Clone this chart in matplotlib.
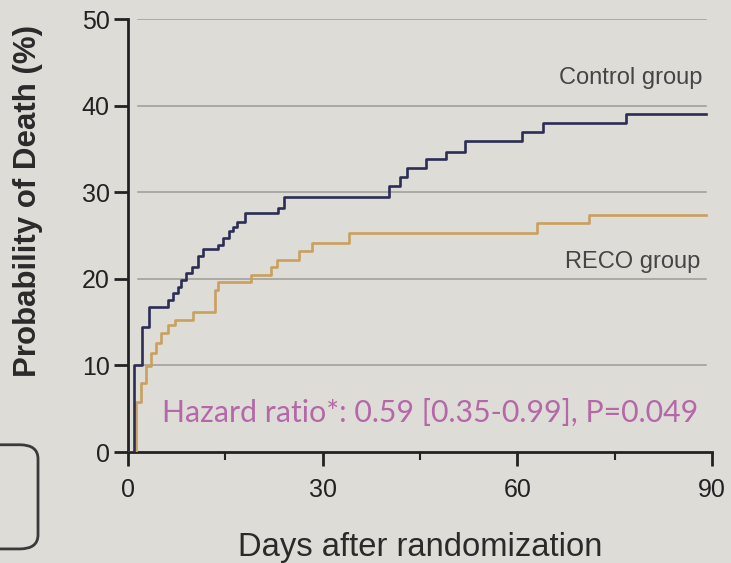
import matplotlib
matplotlib.use('Agg')
import matplotlib.pyplot as plt
from matplotlib.patches import FancyBboxPatch

# Kaplan-Meier style cumulative death
control_days = [0, 1.0, 2.1, 3.2, 6.2, 7.0, 7.7, 8.2, 9.0, 9.8, 10.8, 11.6, 13.9, 14.7,
                15.5, 16.2, 16.8, 18.0, 23.2, 24.0, 40.2, 42.0, 43.0, 46.0, 49.0, 52.0,
                60.8, 63.9, 76.8, 89.0]
control_prob = [0, 10, 14.5, 16.8, 17.6, 18.4, 19.1, 19.9, 20.7, 21.4, 22.6, 23.4, 23.9, 24.7,
                25.5, 26.0, 26.6, 27.6, 28.2, 29.5, 30.7, 31.8, 32.8, 33.8, 34.7, 35.9,
                37.0, 38.0, 39.0, 39.0]

reco_days = [0, 1.2, 2.0, 2.8, 3.6, 4.4, 5.1, 6.2, 7.2, 10.0, 13.4, 13.9, 19.0, 22.1,
             23.0, 26.3, 28.3, 34.0, 63.0, 71.0, 89.0]
reco_prob = [0, 5.8, 8.0, 9.9, 11.4, 12.6, 13.7, 14.7, 15.3, 16.2, 18.7, 19.7, 20.5, 21.4,
             22.2, 23.2, 24.1, 25.3, 26.5, 27.4, 27.4]

x_ticks = [0, 30, 60, 90]
x_minor = [15, 45, 75]
y_ticks = [0, 10, 20, 30, 40, 50]

bg = '#dedcd7'
navy = '#2b2d55'
gold = '#c9a05e'
grey_txt = '#454545'

plt.rcParams['font.family'] = ['Liberation Sans', 'DejaVu Sans']

fig = plt.figure(figsize=(7.31, 5.63), dpi=100)
fig.patch.set_facecolor(bg)
ax = fig.add_axes([0.175, 0.197, 0.799, 0.769])
ax.set_facecolor(bg)

# grid lines (start a little right of the axis like the slide)
for y in y_ticks[1:]:
    ax.plot([1.5, 89], [y, y], color='#9d9b96', lw=1.1, zorder=1)

ax.step(reco_days, reco_prob, where='post', color=gold, lw=1.9, zorder=3)
ax.step(control_days, control_prob, where='post', color=navy, lw=1.9, zorder=4)

ax.text(77.5, 43.2, 'Control group', fontsize=17, color=grey_txt, ha='center', va='center')
ax.text(77.8, 22.0, 'RECO group', fontsize=17, color=grey_txt, ha='center', va='center')
ax.text(5.3, 4.6, 'Hazard ratio*: 0.59 [0.35-0.99], P=0.049', fontsize=21.8,
        color='#b468a8', family=['Lato', 'DejaVu Sans'], ha='left', va='center')

ax.set_xlim(0, 90)
ax.set_ylim(0, 50)
ax.set_xticks(x_ticks)
ax.set_xticks(x_minor, minor=True)
ax.set_yticks(y_ticks)
for s in ['top', 'right']:
    ax.spines[s].set_visible(False)
for s in ['left', 'bottom']:
    ax.spines[s].set_color('#222222')
    ax.spines[s].set_linewidth(2.0)
ax.tick_params(axis='both', which='major', length=10, width=2, color='#222222',
               labelcolor='#222222', labelsize=18)
ax.tick_params(axis='x', which='major', pad=9)
ax.tick_params(axis='y', which='major', pad=3)
ax.tick_params(axis='x', which='minor', length=6, width=1.5, color='#222222')

ax.set_xlabel('Days after randomization', fontsize=23.6, color='#2a2a2a')
ax.xaxis.set_label_coords(0.5, -0.185)
ax.set_ylabel('Probability of Death (%)', fontsize=22.5, fontweight='bold', color='#2a2a2a')
ax.yaxis.set_label_coords(-0.146, 0.58)

# partial rounded box peeking in on the left edge of the slide
box = FancyBboxPatch((-0.06, 0.025), 0.112, 0.185, boxstyle='round,pad=0,rounding_size=0.025',
                     transform=fig.transFigure, fill=False, edgecolor='#3a3a3a', lw=2.0)
fig.patches.append(box)

fig.savefig('out.png', dpi=100, facecolor=bg)
